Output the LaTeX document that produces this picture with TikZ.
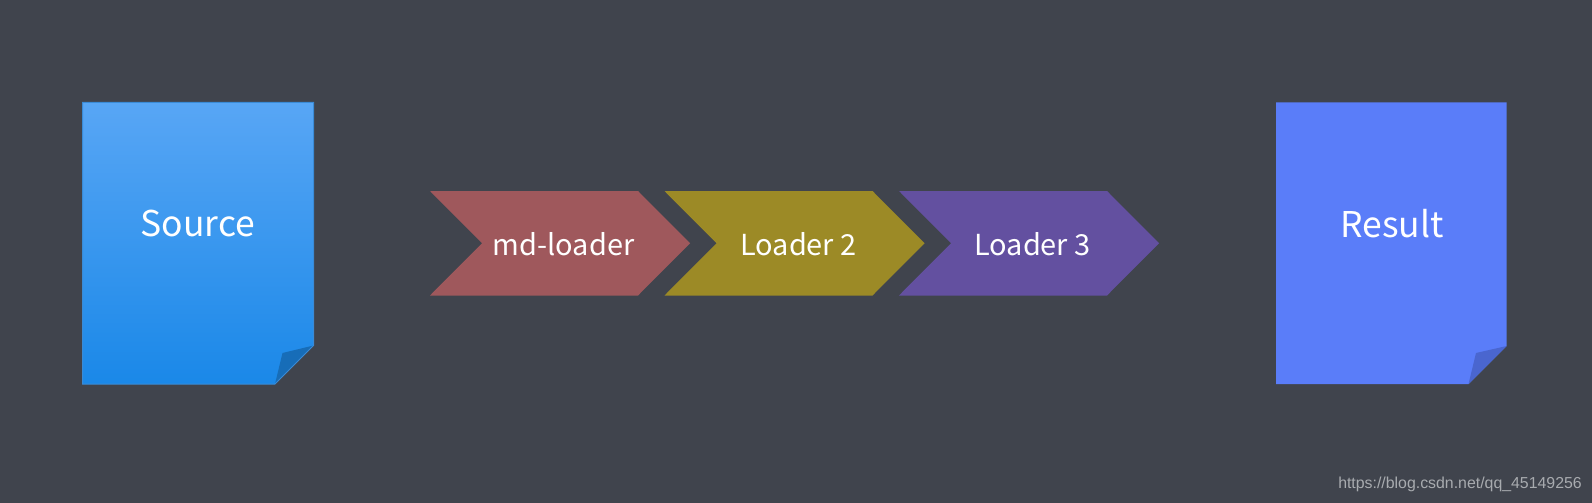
\documentclass[tikz,border=0pt]{standalone}
\usepackage{fontspec}
\setmainfont{Noto Sans CJK SC}
\newfontfamily\wmfont{Liberation Sans}
\definecolor{bgc}{HTML}{40444D}
\definecolor{srcedge}{HTML}{3A8BD6}
\definecolor{srctop}{HTML}{58A6F5}
\definecolor{srcmid}{HTML}{2898F8}
\definecolor{srcbot}{HTML}{1A88E8}
\definecolor{srcfold}{HTML}{176DB8}
\definecolor{resc}{HTML}{5A7DF9}
\definecolor{resfold}{HTML}{4A66CF}
\definecolor{chevA}{HTML}{9F585C}
\definecolor{chevB}{HTML}{9C8A26}
\definecolor{chevC}{HTML}{6350A0}
\definecolor{wmc}{HTML}{A8ABAF}
\tikzset{
  doclabel/.style={text=white,font=\fontsize{26.6}{32}\selectfont,inner sep=0pt,anchor=center},
  chevlabel/.style={text=white,font=\fontsize{21.7}{26}\selectfont,inner sep=0pt,anchor=center},
  pics/chevron/.style={code={
    \fill[#1] (0,0) -- (208,0) -- (260,52.25) -- (208,104.5) -- (0,104.5) -- (52,52.25) -- cycle;
  }},
}
\begin{document}
\begin{tikzpicture}[x=0.75pt,y=-0.75pt]
\useasboundingbox (0,0) rectangle (1592,503);
\fill[bgc] (0,0) rectangle (1592,503);
% Source
\path[shade,top color=srctop,middle color=srcmid,bottom color=srcbot]
  (82.5,102.5) -- (313.5,102.5) -- (313.5,345.5) -- (275,384) -- (82.5,384) -- cycle;
\fill[srcfold] (275,384) -- (282.5,353) -- (313.5,345.5) -- cycle;
\draw[srcedge,line width=0.75pt] (82.5,102.5) -- (313.5,102.5) -- (313.5,345.5) -- (275,384) -- (82.5,384) -- cycle;
\node[doclabel] (source) at (198,224) {Source};
% Chevrons
\pic at (430,191) {chevron=chevA};
\pic at (664.5,191) {chevron=chevB};
\pic at (899,191) {chevron=chevC};
\node[chevlabel] (a) at (563.5,244) {md-loader};
\node[chevlabel] (b) at (798.5,244) {Loader 2};
\node[chevlabel] (c) at (1032.5,244) {Loader 3};
% Result
\fill[resc] (1276,102.5) -- (1506.7,102.5) -- (1506.7,346) -- (1468.5,384) -- (1276,384) -- cycle;
\fill[resfold] (1468.5,384) -- (1476,353) -- (1506.7,346) -- cycle;
\node[doclabel] (result) at (1392,223.5) {Result};
% Watermark
\node[text=wmc,font=\wmfont\fontsize{11.9}{14}\selectfont,inner sep=0pt,anchor=base east] (wm) at (1582,488) {https://blog.csdn.net/qq\_45149256};
\end{tikzpicture}
\end{document}
